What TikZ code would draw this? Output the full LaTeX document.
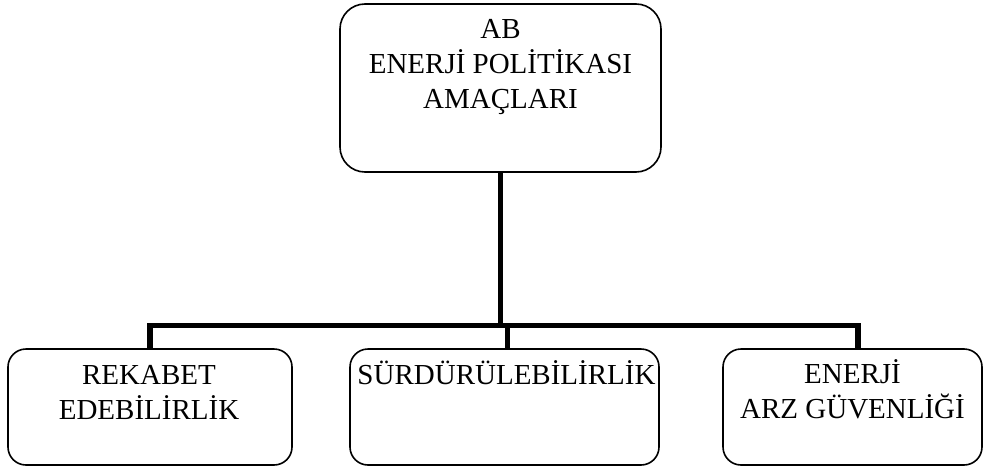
\documentclass[tikz,border=0pt]{standalone}
\usepackage{fontspec}
\setmainfont{Liberation Serif}
\begin{document}
\begin{tikzpicture}[x=1pt,y=-1pt,
  box/.style={draw=black, line width=1.6pt, rounded corners=18pt, inner sep=0pt},
  topbox/.style={box, rounded corners=25pt},
  txt/.style={align=center, inner sep=0pt, anchor=north, font=\fontsize{29}{35}\selectfont},
  conn/.style={draw=black, line width=5.5pt}]
\useasboundingbox (0,0) rectangle (983,466);
% boxes
\node[topbox, minimum width=321pt, minimum height=168pt] (top) at (500.5,88) {};
\node[box, minimum width=284pt, minimum height=116pt] (left) at (150,407) {};
\node[box, minimum width=309pt, minimum height=116pt] (mid) at (504.5,407) {};
\node[box, minimum width=259pt, minimum height=116pt] (right) at (852.5,407) {};
% texts
\node[txt] (topT) at (500.5,19) {AB\\ENERJİ POLİTİKASI\\AMAÇLARI};
\node[txt] (leftT) at (149,365) {REKABET\\EDEBİLİRLİK};
\node[txt] (midT) at (506.5,360) {SÜRDÜRÜLEBİLİRLİK};
\node[txt] (rightT) at (852.5,359.5) {ENERJİ\\ARZ GÜVENLİĞİ};
% connectors
\coordinate (bus) at (500.5,325.5);
\draw[conn] (top.south) -- (top.south |- bus);
\draw[conn] (left.north) -- (left.north |- bus) -- ([xshift=5.5pt]right.north |- bus) -- ([xshift=5.5pt]right.north);
\draw[conn] ([xshift=3pt]mid.north) -- ([xshift=3pt]mid.north |- bus);
\end{tikzpicture}
\end{document}
